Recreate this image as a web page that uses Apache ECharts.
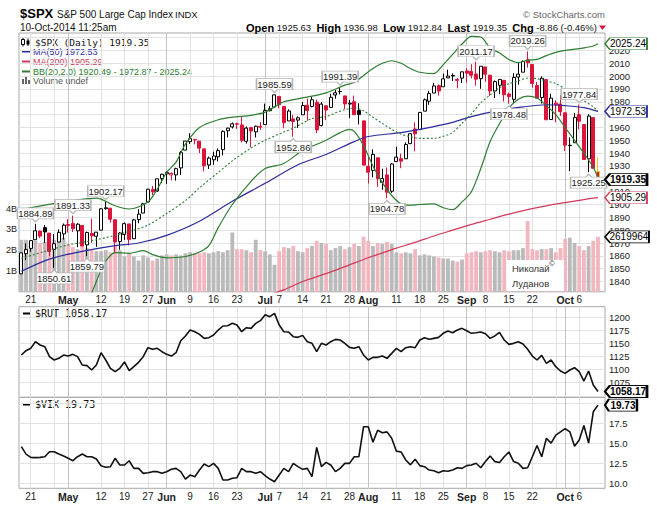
<!DOCTYPE html>
<html><head><meta charset="utf-8">
<script src="https://cdn.jsdelivr.net/npm/echarts@6/dist/echarts.min.js"></script>
<style>html,body{margin:0;padding:0;background:#fff}#c{width:657px;height:513px}</style>
</head><body><div id="c"></div>
<script>
// ---------- DATA ----------
const dates = ['4/16','4/17','4/21','4/22','4/23','4/24','4/25','4/28','4/29','4/30',
 '5/1','5/2','5/5','5/6','5/7','5/8','5/9','5/12','5/13','5/14','5/15','5/16','5/19','5/20','5/21','5/22','5/23','5/27','5/28','5/29','5/30',
 '6/2','6/3','6/4','6/5','6/6','6/9','6/10','6/11','6/12','6/13','6/16','6/17','6/18','6/19','6/20','6/23','6/24','6/25','6/26','6/27','6/30',
 '7/1','7/2','7/3','7/7','7/8','7/9','7/10','7/11','7/14','7/15','7/16','7/17','7/18','7/21','7/22','7/23','7/24','7/25','7/28','7/29','7/30','7/31',
 '8/1','8/4','8/5','8/6','8/7','8/8','8/11','8/12','8/13','8/14','8/15','8/18','8/19','8/20','8/21','8/22','8/25','8/26','8/27','8/28','8/29',
 '9/2','9/3','9/4','9/5','9/8','9/9','9/10','9/11','9/12','9/15','9/16','9/17','9/18','9/19','9/22','9/23','9/24','9/25','9/26','9/29','9/30',
 '10/1','10/2','10/3','10/6','10/7','10/8','10/9','10/10'];

const open = [1846.01,1861.73,1865.79,1872.57,1879.32,1881.97,1877.72,1865.00,1870.78,1877.10,
 1884.39,1885.30,1879.45,1883.69,1868.53,1877.39,1875.27,1880.03,1896.75,1897.13,
 1888.16,1871.19,1876.66,1884.88,1873.34,1888.19,1893.32,1902.01,1911.77,1910.60,
 1920.33,1923.87,1923.07,1923.06,1928.52,1942.41,1948.97,1950.34,1949.37,1943.35,
 1930.80,1934.84,1937.15,1942.73,1957.50,1960.45,1962.92,1961.97,1949.27,1959.89,
 1956.56,1960.79,1962.29,1973.06,1975.88,1984.22,1976.39,1965.10,1966.67,1965.76,
 1969.86,1977.36,1976.35,1979.75,1961.54,1976.93,1975.65,1985.32,1988.07,1984.60,
 1978.25,1980.03,1973.21,1965.14,1929.80,1926.62,1936.34,1917.29,1923.03,1910.35,
 1933.43,1935.73,1935.60,1947.41,1958.87,1958.36,1972.73,1980.46,1986.82,1992.60,
 1991.74,1998.59,2000.54,1997.42,1998.45,2004.07,2003.57,2001.67,1998.00,2007.17,
 2000.73,1988.41,1992.85,1996.74,1986.04,1981.93,1999.30,2003.07,2012.74,2009.08,
 1992.78,1983.34,1997.32,1966.22,1978.96,1978.21,1971.44,1945.83,1948.12,1970.01,
 1962.36,1935.55,1967.68,1925.63];
const high = [1862.31,1869.63,1871.89,1884.89,1879.75,1884.06,1877.72,1877.01,1880.60,1885.20,
 1888.59,1891.33,1885.51,1883.69,1878.83,1889.07,1878.57,1897.13,1902.17,1897.13,
 1888.16,1878.28,1886.00,1884.88,1888.80,1896.33,1901.26,1912.28,1914.46,1920.03,
 1924.03,1925.88,1925.07,1928.63,1941.74,1949.44,1955.55,1950.86,1949.37,1943.35,
 1937.30,1941.15,1943.69,1957.74,1959.87,1963.91,1963.74,1968.17,1960.83,1959.89,
 1961.47,1964.24,1978.58,1976.67,1985.59,1984.22,1976.39,1974.15,1969.84,1968.67,
 1979.85,1982.52,1983.94,1981.80,1979.91,1976.93,1986.24,1989.23,1991.39,1984.60,
 1981.52,1984.85,1978.90,1965.14,1937.35,1942.92,1936.34,1927.91,1928.89,1932.38,
 1944.90,1939.65,1948.41,1955.23,1964.04,1971.99,1982.57,1988.57,1994.76,1993.54,
 2001.95,2005.04,2002.14,1998.55,2003.38,2006.12,2009.28,2011.17,2007.71,2007.17,
 2001.01,1996.66,1997.65,1996.74,1987.18,2002.28,2010.74,2012.34,2019.26,2009.08,
 1995.41,1999.79,1997.32,1986.37,1981.28,1985.17,1971.44,1952.32,1971.19,1977.84,
 1962.36,1970.36,1967.68,1936.98];
const low = [1846.01,1856.72,1863.18,1872.57,1873.91,1870.24,1859.70,1850.61,1870.78,1872.69,
 1878.04,1878.50,1866.77,1867.72,1859.79,1870.05,1867.02,1880.03,1896.06,1885.77,
 1862.36,1864.82,1872.42,1868.14,1873.34,1885.39,1893.32,1902.01,1907.30,1909.82,
 1916.64,1915.98,1918.79,1918.60,1922.93,1942.41,1947.16,1946.87,1940.08,1925.78,
 1927.69,1930.91,1933.55,1938.29,1952.26,1959.17,1958.89,1948.34,1947.49,1944.69,
 1952.18,1958.22,1962.29,1972.58,1975.88,1974.88,1959.46,1965.10,1952.86,1959.63,
 1969.86,1965.34,1975.67,1955.59,1960.82,1965.77,1975.65,1982.44,1985.79,1974.37,
 1967.31,1969.95,1962.42,1930.67,1916.37,1921.20,1913.77,1911.45,1904.78,1909.01,
 1933.43,1928.29,1935.60,1947.41,1941.50,1958.36,1972.73,1977.68,1986.82,1984.76,
 1991.74,1998.59,1996.20,1990.52,1994.65,1994.85,1998.14,1992.54,1990.10,1995.60,
 1984.61,1982.99,1985.93,1980.26,1978.48,1979.06,1993.29,2003.07,2006.59,1991.01,
 1982.77,1978.63,1965.99,1966.22,1964.04,1968.96,1941.72,1926.03,1948.12,1958.43,
 1935.10,1925.25,1927.56,1912.84];
const close = [1862.31,1864.85,1871.89,1879.55,1875.39,1878.61,1863.40,1869.43,1878.33,1883.95,
 1883.68,1881.14,1884.66,1867.72,1878.21,1875.63,1878.48,1896.65,1897.45,1888.53,
 1870.85,1877.86,1885.08,1872.83,1888.03,1892.49,1900.53,1911.91,1909.78,1920.03,
 1923.57,1924.97,1924.24,1927.88,1940.46,1949.44,1951.27,1950.79,1943.89,1930.11,
 1936.16,1937.78,1941.99,1956.98,1959.48,1962.87,1962.61,1949.98,1959.53,1957.22,
 1960.96,1960.23,1973.32,1974.62,1985.44,1977.65,1963.71,1972.83,1964.68,1967.57,
 1977.10,1973.28,1981.57,1958.12,1978.22,1973.63,1983.53,1987.01,1987.98,1978.34,
 1978.91,1969.95,1970.07,1930.67,1925.15,1938.99,1920.21,1920.24,1909.57,1931.59,
 1936.92,1933.75,1946.72,1955.18,1955.06,1971.74,1981.60,1986.51,1992.37,1988.40,
 1997.92,2000.02,2000.12,1996.74,2003.37,2002.28,2000.72,1997.65,2007.71,2001.54,
 1988.44,1995.69,1997.45,1985.54,1984.13,1998.98,2001.57,2011.36,2010.40,1994.29,
 1982.77,1998.30,1965.99,1982.85,1977.80,1972.29,1946.16,1946.17,1967.90,1964.82,
 1935.10,1968.89,1928.21,1919.35];

// volume, billions of shares
const volume = [2.50,2.50,2.30,2.45,2.35,2.40,2.50,2.50,2.60,2.60,
 2.30,2.15,2.05,2.20,2.10,2.00,1.95,1.95,2.00,1.90,
 2.20,2.00,1.70,1.85,1.70,1.50,1.75,1.65,1.50,1.60,
 1.75,1.80,1.75,1.80,1.75,1.85,1.90,1.85,1.85,1.90,
 1.85,1.90,1.95,1.90,2.00,2.85,2.05,2.05,2.00,1.90,
 2.50,2.00,1.95,1.80,1.30,1.95,2.15,2.10,2.20,1.95,
 1.90,2.10,2.20,2.45,2.35,2.30,2.00,2.10,2.20,2.05,
 2.15,2.30,2.20,2.65,2.45,2.20,2.35,2.30,2.40,2.30,
 1.90,1.85,1.90,1.85,2.05,1.75,1.80,1.75,1.70,1.65,
 1.60,1.60,1.50,1.45,1.55,1.85,1.90,1.95,1.90,1.95,
 2.00,1.95,1.90,2.00,1.95,2.00,2.00,2.10,3.40,2.05,
 2.00,2.05,2.05,2.10,1.90,2.10,2.55,2.60,2.35,2.20,
 2.00,2.20,2.45,2.64];

const ma50 = [['4/16',1848],['4/25',1857.5],['5/6',1863.5],['5/15',1868],['5/22',1870],['6/2',1876],['6/11',1887],['6/20',1902.5],['7/1',1916.5],['7/11',1931],['7/21',1939],['7/29',1949],['8/1',1953],['8/12',1956],['8/18',1958.5],['8/27',1964],['9/3',1968.5],['9/11',1973.3],['9/18',1976],['9/25',1977.7],['10/1',1977],['10/7',1975.5],['10/10',1972.53]];
const ma200 = [['7/3',1831],['7/8',1833.5],['7/14',1840],['7/18',1845],['7/22',1847.5],['7/28',1853],['8/1',1858.5],['8/7',1863.5],['8/11',1866],['8/15',1870.5],['8/21',1875.5],['8/27',1880],['9/3',1884.5],['9/9',1888.5],['9/15',1892.5],['9/19',1896],['9/25',1899],['10/1',1901.5],['10/7',1903.8],['10/10',1905.29]];
const bbUpper = [['4/16',1896],['4/24',1899.5],['5/1',1902.5],['5/9',1905],['5/15',1899],['5/20',1896.5],['5/27',1902],['5/29',1912],['6/2',1925],['6/4',1933],['6/6',1947],['6/11',1960],['6/17',1966],['6/20',1968],['6/26',1969.5],['7/1',1972],['7/8',1980],['7/14',1983],['7/21',1987],['7/25',1993],['7/29',1995],['7/31',2000.5],['8/4',2006],['8/6',2010],['8/8',2012],['8/12',2010],['8/14',2006],['8/18',2003],['8/21',2002],['8/25',2009],['8/27',2017],['8/29',2025],['9/3',2031],['9/5',2030.5],['9/9',2022],['9/11',2018],['9/15',2013],['9/17',2010.5],['9/19',2012.5],['9/23',2013],['9/25',2016],['9/29',2018.5],['10/1',2020],['10/3',2021],['10/7',2022],['10/9',2023.5],['10/10',2025.24]];
const bbMid = [['4/16',1858],['4/24',1863.5],['5/1',1868.5],['5/9',1872.5],['5/20',1879],['5/27',1884],['6/2',1893],['6/6',1903],['6/11',1913],['6/17',1925],['6/20',1934],['6/26',1944],['7/1',1950],['7/8',1956.5],['7/10',1959.4],['7/14',1963.3],['7/16',1967],['7/21',1968.5],['7/23',1971.4],['7/25',1973.9],['7/29',1975.3],['7/31',1972.9],['8/4',1968],['8/6',1963.2],['8/8',1958.6],['8/12',1954.7],['8/14',1952.8],['8/18',1951.5],['8/21',1951.6],['8/25',1953.1],['8/27',1956.1],['8/29',1963.3],['9/3',1970.5],['9/5',1979.3],['9/9',1985.4],['9/11',1991],['9/15',1994],['9/17',1996.3],['9/19',1998.5],['9/23',1998],['9/25',1996.2],['9/29',1994.2],['10/1',1990],['10/3',1985.4],['10/7',1980.9],['10/9',1976.1],['10/10',1972.87]];
const bbLower = [['5/7',1822],['5/9',1840],['5/12',1849],['5/13',1856],['5/15',1862.5],['5/20',1862],['5/23',1864],['5/28',1861],['6/2',1858.5],['6/6',1859.5],['6/11',1863],['6/13',1868],['6/17',1882],['6/20',1900],['6/26',1918],['7/1',1928],['7/8',1932],['7/14',1942],['7/21',1950],['7/24',1956],['7/28',1958.5],['7/29',1957],['7/31',1946],['8/4',1930],['8/6',1917],['8/8',1907],['8/12',1900.5],['8/14',1899.5],['8/18',1900],['8/21',1900.5],['8/25',1897.5],['8/27',1896],['8/29',1902],['9/3',1910],['9/5',1928],['9/9',1949],['9/11',1963],['9/15',1975],['9/17',1982],['9/19',1984.5],['9/23',1983],['9/25',1977],['9/29',1970],['10/1',1960],['10/3',1950],['10/7',1940],['10/9',1929],['10/10',1920.49]];

const rut = [1127.9,1136.2,1140.7,1153.4,1147.1,1143.9,1124.8,1118.4,1121.6,1127.9,
 1126.0,1129.2,1124.8,1108.8,1107.6,1099.3,1108.8,1132.4,1118.4,1102.5,
 1096.1,1102.5,1114.6,1098.0,1105.6,1113.9,1124.8,1142.0,1138.8,1140.7,
 1134.3,1129.2,1126.0,1132.4,1155.3,1164.3,1175.7,1172.5,1167.4,1159.8,
 1161.1,1166.2,1175.7,1183.4,1184.0,1188.5,1185.3,1172.5,1180.2,1178.9,
 1188.5,1193.6,1205.0,1201.2,1207.6,1185.3,1172.5,1171.9,1163.0,1161.7,
 1165.5,1153.4,1150.2,1134.3,1150.2,1147.1,1153.4,1157.9,1156.6,1150.2,
 1142.6,1140.7,1143.9,1127.9,1118.4,1123.5,1123.5,1126.0,1121.6,1131.1,
 1140.7,1134.3,1142.0,1143.9,1142.0,1156.6,1161.1,1157.9,1159.8,1161.7,
 1169.4,1173.8,1170.6,1175.7,1178.9,1174.4,1169.4,1170.6,1171.9,1168.5,
 1159.8,1164.3,1171.3,1156.6,1148.3,1150.2,1153.4,1149.0,1138.8,1126.0,
 1118.4,1127.3,1112.0,1118.4,1105.6,1097.4,1092.9,1099.3,1103.7,1096.1,
 1078.2,1097.4,1070.6,1058.17];
const vix = [14.56,13.64,13.23,13.19,13.23,13.31,13.93,13.93,13.64,13.40,
 13.11,12.81,13.31,13.64,13.31,13.31,13.02,12.19,11.99,12.07,
 13.11,12.28,12.28,12.81,11.86,11.86,11.24,11.32,11.45,11.45,
 11.24,11.45,11.74,11.86,11.45,10.53,11.03,10.82,11.65,12.40,
 12.07,12.48,11.86,10.41,10.41,10.62,10.70,11.86,11.45,11.45,
 11.24,11.45,10.95,10.53,10.20,11.03,11.86,11.45,12.48,12.07,
 11.74,11.86,10.82,14.47,12.07,12.61,12.28,11.45,11.86,12.48,
 12.48,13.31,13.31,17.04,17.04,15.12,16.60,16.30,16.40,15.60,
 14.00,13.90,12.90,12.30,13.00,12.20,12.07,11.65,11.57,11.32,
 11.57,11.50,11.65,11.94,11.86,12.20,12.28,12.50,11.94,12.70,
 13.40,12.70,12.60,13.30,13.90,12.70,12.50,11.86,11.94,13.30,
 14.70,13.30,15.60,15.00,16.00,16.40,16.80,16.40,14.60,15.40,
 17.20,15.00,18.90,19.73];

// axis ticks / labels
const xLabels = [['4/21','21'],['5/1','May'],['5/12','12'],['5/19','19'],['5/27','27'],['6/2','Jun'],['6/9','9'],['6/16','16'],['6/23','23'],
 ['7/1','Jul'],['7/7','7'],['7/14','14'],['7/21','21'],['7/28','28'],['8/1','Aug'],['8/11','11'],['8/18','18'],['8/25','25'],
 ['9/2','Sep'],['9/8','8'],['9/15','15'],['9/22','22'],['10/1','Oct'],['10/6','6']];
const xGridDates = ['4/21','4/28','5/1','5/12','5/19','5/27','6/2','6/9','6/16','6/23','7/1','7/7','7/14','7/21','7/28','8/1','8/11','8/18','8/25','9/2','9/8','9/15','9/22','9/29','10/1','10/6'];
const xMonthDates = ['5/1','6/2','7/1','8/1','9/2','10/1'];
const priceTicks = [1840,1850,1860,1870,1880,1890,1900,1910,1920,1930,1940,1950,1960,1970,1980,1990,2000,2010,2020,2030];
const priceLabels = [1840,1850,1860,1870,1880,1890,1900,1910,1930,1940,1950,1960,1980,1990,2000,2010,2020];
const volLabels = [1,2,3,4];
const rutTicks = [1050,1075,1100,1125,1150,1175,1200];
const rutLabels = [1075,1100,1125,1150,1175,1200];
const vixTicks = [10,12.5,15,17.5,20];
const vixLabels = [10,12.5,15,17.5];

// price annotations: date, value, above(true)/below(false)
const annotations = [['4/22',1884.89,true],['5/2',1891.33,true],['5/13',1902.17,true],['4/28',1850.61,false],['5/7',1859.79,false],
 ['7/3',1985.59,true],['7/24',1991.39,true],['7/10',1952.86,false],['8/7',1904.78,false],['9/4',2011.17,true],['9/19',2019.26,true],
 ['9/15',1978.48,false],['10/6',1977.84,true],['10/8',1925.25,false]];

// ---------- CHART ----------
const F = '"Liberation Sans", Arial, sans-serif';
const MONO = '"DejaVu Sans Mono", "Liberation Mono", monospace';
const RED = '#dc143c', BLUE = '#2c2c9c', MA2C = '#d23a5c', GREEN = '#2e7d32';
const cats = dates.concat(['']);
const labelMap = {}; xLabels.forEach(([d, t]) => { labelMap[dates.indexOf(d)] = t; });
const gridSet = new Set(xGridDates.map(d => dates.indexOf(d)));
const monthSet = new Set(xMonthDates.map(d => dates.indexOf(d)));
const months = ['May','Jun','Jul','Aug','Sep','Oct'];

function xAx(gi, showLabels) {
  return {type:'category', gridIndex:gi, data:cats, boundaryGap:true,
    axisLine:{show:false}, axisTick:{show:false},
    axisLabel:{show:showLabels, interval:(i)=>labelMap[i]!==undefined, margin:3, fontSize:10, color:'#222', fontFamily:F,
      formatter:(v,i)=>{const t=labelMap[i]||''; return months.includes(t)?'{m|'+t+'}':t;},
      rich:{m:{fontWeight:'bold', fontSize:10.5, fontFamily:F, color:'#222'}}},
    splitLine:{show:true, interval:(i)=>gridSet.has(i), alignWithLabel:true, lineStyle:{color:'#e2e2e2', width:1}}};
}
function xMon(gi) {
  return {type:'category', gridIndex:gi, data:cats, boundaryGap:true,
    axisLine:{show:false}, axisTick:{show:false}, axisLabel:{show:false},
    splitLine:{show:true, interval:(i)=>monthSet.has(i), alignWithLabel:true, lineStyle:{color:'#c4c4c4', width:1}}};
}

const prevClose = (i) => i ? close[i-1] : -Infinity;
const candleData = dates.map((d, i) => {
  const tone = close[i] >= prevClose(i) ? '#000' : RED;
  let fill = close[i] > open[i] ? '#fff' : tone;
  let border = tone;
  if (i === dates.length - 1) { fill = RED; border = '#f0c419'; }
  return {value:[open[i], close[i], low[i], high[i]],
    itemStyle:{color:fill, color0:fill, borderColor:border, borderColor0:border, borderWidth:1}};
});
const volData = volume.map((v, i) => ({value:v, itemStyle:{color: close[i] >= prevClose(i) ? '#bababa' : '#f2b6bf'}}));

const TAG = 'path://M0,6L6,0L50,0L50,12L6,12Z';
function tag(date, value, text, color, bold, w) {
  w = w || 42;
  return {coord:[date, value], symbol:TAG, symbolSize:[w, 12], symbolKeepAspect:false, symbolOffset:[7 + w/2, 0],
    itemStyle:{color:'#fff', borderColor:color, borderWidth: bold ? 1.5 : 1},
    label:{show:true, position:'inside', formatter:text, color:'#000', fontSize:10, fontWeight: bold ? 'bold' : 'normal', fontFamily:F, offset:[2,0]}};
}
const ABOVE = 'path://M0,0L36,0L36,11L21,11L18,14L15,11L0,11Z';
const BELOW = 'path://M0,3L15,3L18,0L21,3L36,3L36,14L0,14Z';
function ann([date, value, above]) {
  return {coord:[date, value], symbol: above ? ABOVE : BELOW, symbolSize:[36, 14], symbolKeepAspect:false,
    symbolOffset:[0, above ? -9 : 9],
    itemStyle:{color:'#fff', borderColor:'#b5b5b5', borderWidth:1},
    label:{show:true, position:'inside', formatter:value.toFixed(2), fontSize:9.5, color:'#222', fontFamily:F, offset:[0, above ? -1.5 : 1.5]}};
}
function mp(items) { return {silent:true, animation:false, symbolKeepAspect:false, data:items}; }
function line(name, data, color, opts) {
  return Object.assign({type:'line', name, data, xAxisIndex:0, yAxisIndex:0, showSymbol:false, symbol:'none', smooth:0.3,
    connectNulls:true, z:4, lineStyle:{color, width:1.2}, itemStyle:{color}, silent:true}, opts || {});
}

const yLab = {margin:4, fontSize:9.5, color:'#222', fontFamily:F, formatter:(v)=>String(v)};
const option = {
  animation:false,
  grid:[
    {left:19, right:52, top:33, height:258.8, show:true, borderColor:'#a8a8a8', borderWidth:1, backgroundColor:'transparent'},
    {left:19, right:52, top:306.7, height:90.6, show:true, borderColor:'#a8a8a8', borderWidth:1},
    {left:19, right:52, top:397.3, height:91, show:true, borderColor:'#a8a8a8', borderWidth:1}
  ],
  xAxis:[xAx(0, true), xAx(1, false), xAx(2, true), xMon(0), xMon(1), xMon(2)],
  yAxis:[
    {gridIndex:0, type:'value', position:'right', min:1832.0, max:2033.6, splitNumber:20,
      axisLine:{show:false}, axisTick:{show:false, customValues:priceTicks},
      axisLabel:Object.assign({}, yLab, {customValues:priceLabels}),
      splitLine:{show:true, customValues:priceTicks, lineStyle:{color:'#e2e2e2'}}},
    {gridIndex:0, type:'value', position:'left', min:0, max:12.44, interval:1,
      axisLine:{show:false}, axisTick:{show:false, customValues:volLabels},
      axisLabel:{customValues:volLabels, formatter:(v)=>v+'B', margin:2, fontSize:9, color:'#222', fontFamily:F},
      splitLine:{show:false}},
    {gridIndex:1, type:'value', position:'right', min:1047.1, max:1220.3,
      axisLine:{show:false}, axisTick:{show:false, customValues:rutTicks},
      axisLabel:Object.assign({}, yLab, {customValues:rutLabels}),
      splitLine:{show:true, customValues:rutTicks, lineStyle:{color:'#e2e2e2'}}},
    {gridIndex:2, type:'value', position:'right', min:9.38, max:20.7,
      axisLine:{show:false}, axisTick:{show:false, customValues:vixTicks},
      axisLabel:Object.assign({}, yLab, {customValues:vixLabels, formatter:(v)=>v.toFixed(1)}),
      splitLine:{show:true, customValues:vixTicks, lineStyle:{color:'#e2e2e2'}}}
  ],
  series:[
    {type:'bar', name:'Volume', xAxisIndex:0, yAxisIndex:1, data:volData, barWidth:3.8, z:1, silent:true,
      markPoint:mp([tag('10/10', volume[volume.length-1], '2619964', '#000', false, 44)])},
    {type:'candlestick', name:'$SPX', xAxisIndex:0, yAxisIndex:0, data:candleData, barWidth:3.5, z:3, silent:true,
      markPoint:mp(annotations.map(ann).concat([tag('10/10', close[close.length-1], '1919.35', '#000', true, 42)]))},
    line('MA(50)', ma50, BLUE, {markPoint:mp([tag('10/10', 1972.53, '1972.53', BLUE, false, 42)])}),
    line('MA(200)', ma200, MA2C, {markPoint:mp([tag('10/10', 1905.29, '1905.29', MA2C, false, 42)])}),
    line('BB upper', bbUpper, GREEN, {markPoint:mp([tag('10/10', 2025.24, '2025.24', GREEN, false, 42)])}),
    line('BB mid', bbMid, GREEN, {lineStyle:{color:GREEN, width:1.1, type:[2,2]}}),
    line('BB lower', bbLower, GREEN),
    {type:'line', name:'$RUT', xAxisIndex:1, yAxisIndex:2, data:rut, showSymbol:false, symbol:'none', silent:true,
      lineStyle:{color:'#111', width:1.6}, itemStyle:{color:'#111'},
      markPoint:mp([tag('10/10', 1058.17, '1058.17', '#000', true, 42)])},
    {type:'line', name:'$VIX', xAxisIndex:2, yAxisIndex:3, data:vix, showSymbol:false, symbol:'none', silent:true,
      lineStyle:{color:'#111', width:1.6}, itemStyle:{color:'#111'},
      markPoint:mp([tag('10/10', 19.73, '19.73', '#000', true, 32)])}
  ],
  graphic:[
    {type:'text', x:20, y:13, style:{text:'$SPX', fontSize:13, fontWeight:'bold', fontFamily:F, fill:'#000', verticalAlign:'middle'}},
    {type:'text', x:57, y:14, style:{text:'S&P 500 Large Cap Index', fontSize:10, fontFamily:F, fill:'#111', verticalAlign:'middle'}},
    {type:'text', x:175, y:14, style:{text:'INDX', fontSize:9.5, fontFamily:F, fill:'#111', verticalAlign:'middle'}},
    {type:'text', x:20, y:27, style:{text:'10-Oct-2014 11:25am', fontSize:10, fontFamily:F, fill:'#111', verticalAlign:'middle'}},
    {type:'text', x:597, y:27.5, style:{text:'{b|Open} 1925.63  {b|High} 1936.98  {b|Low} 1912.84  {b|Last} 1919.35  {b|Chg} -8.86 (-0.46%)',
      fontSize:9.5, fontFamily:F, fill:'#111', align:'right', verticalAlign:'middle',
      rich:{b:{fontWeight:'bold', fontSize:11, fontFamily:F, fill:'#000'}}}},
    {type:'polygon', shape:{points:[[599,25.5],[606,25.5],[602.5,30]]}, style:{fill:RED}},
    {type:'text', x:605, y:14, style:{text:'© StockCharts.com', fontSize:9.5, fontFamily:F, fill:'#666', align:'right', verticalAlign:'middle'}},
    // legend in main panel
    {type:'line', shape:{x1:23,y1:37.5,x2:23,y2:46.5}, style:{stroke:'#000', lineWidth:1}},
    {type:'rect', shape:{x:21.5,y:39.5,width:3,height:5}, style:{fill:'#fff', stroke:'#000', lineWidth:1}},
    {type:'line', shape:{x1:28,y1:38.5,x2:28,y2:46}, style:{stroke:'#000', lineWidth:1}},
    {type:'rect', shape:{x:26.5,y:40.5,width:3,height:4}, style:{fill:'#000'}},
    {type:'text', x:35, y:42, style:{text:'$SPX (Daily) 1919.35', fontSize:9.5, fontFamily:MONO, fill:'#111', verticalAlign:'middle'}},
    {type:'line', shape:{x1:22,y1:51.5,x2:31,y2:51.5}, style:{stroke:BLUE, lineWidth:2}},
    {type:'text', x:33, y:51.5, style:{text:'MA(50) 1972.53', fontSize:9, fontFamily:F, fill:BLUE, verticalAlign:'middle'}},
    {type:'line', shape:{x1:22,y1:61.5,x2:31,y2:61.5}, style:{stroke:MA2C, lineWidth:2}},
    {type:'text', x:33, y:61.5, style:{text:'MA(200) 1905.29', fontSize:9, fontFamily:F, fill:MA2C, verticalAlign:'middle'}},
    {type:'line', shape:{x1:22,y1:71.5,x2:31,y2:71.5}, style:{stroke:GREEN, lineWidth:2}},
    {type:'text', x:33, y:71.5, style:{text:'BB(20,2.0) 1920.49 - 1972.87 - 2025.24', fontSize:9, fontFamily:F, fill:GREEN, verticalAlign:'middle'}},
    {type:'rect', shape:{x:22,y:79,width:2,height:5}, style:{fill:'#666'}},
    {type:'rect', shape:{x:25,y:77,width:2,height:7}, style:{fill:'#666'}},
    {type:'rect', shape:{x:28,y:80,width:2,height:4}, style:{fill:'#666'}},
    {type:'text', x:33, y:81, style:{text:'Volume undef', fontSize:9, fontFamily:F, fill:'#555', verticalAlign:'middle'}},
    // panel legends
    {type:'line', shape:{x1:23,y1:313.5,x2:31,y2:313.5}, style:{stroke:'#000', lineWidth:2}},
    {type:'text', x:35, y:313.5, style:{text:'$RUT 1058.17', fontSize:10, fontFamily:MONO, fill:'#111', verticalAlign:'middle'}},
    {type:'line', shape:{x1:23,y1:404.5,x2:31,y2:404.5}, style:{stroke:'#000', lineWidth:2}},
    {type:'text', x:35, y:404.5, style:{text:'$VIX 19.73', fontSize:10, fontFamily:MONO, fill:'#111', verticalAlign:'middle'}},
    // watermark
    {type:'rect', shape:{x:507,y:260,width:57,height:31}, style:{fill:'#fff'}, z:100},
    {type:'text', x:512, y:268.5, z:101, style:{text:'Николай', fontSize:9.5, fontFamily:F, fill:'#333', verticalAlign:'middle'}},
    {type:'text', x:549, y:263, z:101, style:{text:'©', fontSize:8, fontFamily:F, fill:'#333', verticalAlign:'middle'}},
    {type:'text', x:512, y:283.5, z:101, style:{text:'Луданов', fontSize:9.5, fontFamily:F, fill:'#333', verticalAlign:'middle'}}
  ]
};
const chart = echarts.init(document.getElementById('c'), null, {renderer:'svg', width:657, height:513});
chart.setOption(option);
</script>
</body></html>
